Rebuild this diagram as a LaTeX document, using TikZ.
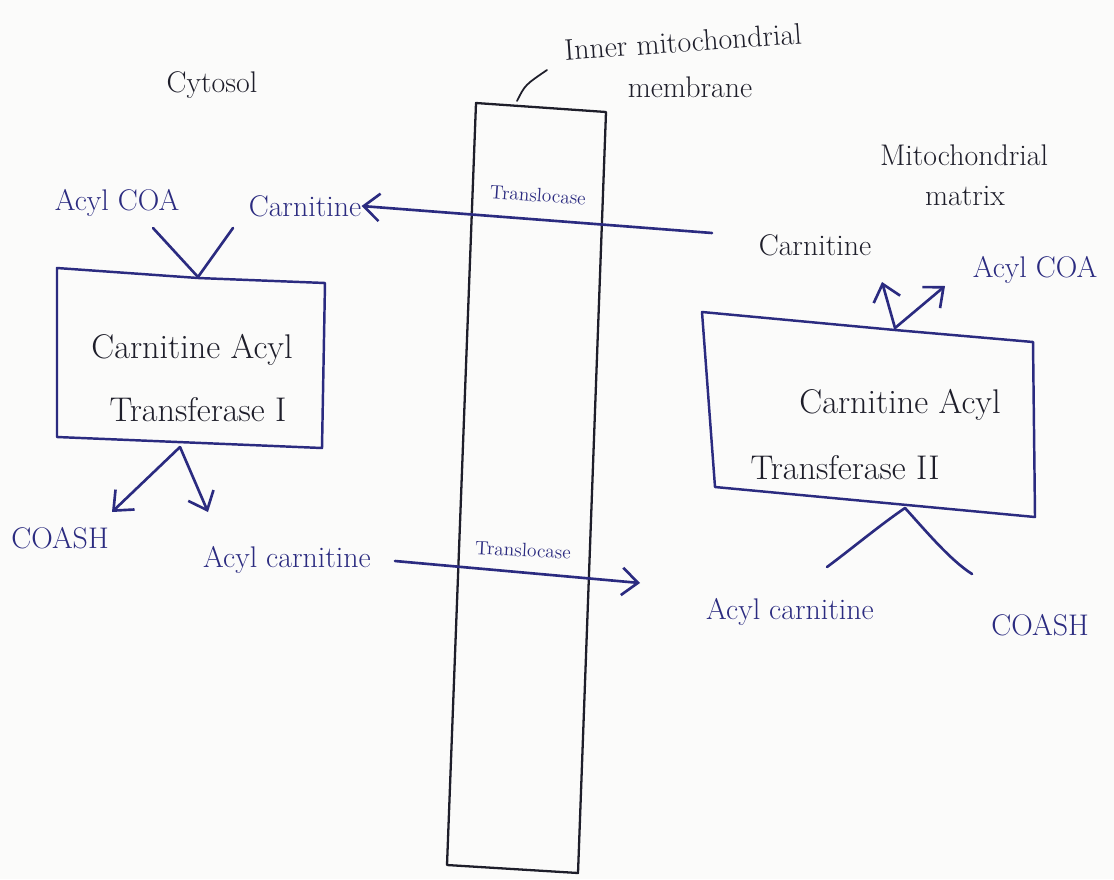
\documentclass[tikz,border=0pt]{standalone}
\usetikzlibrary{arrows.meta}
\definecolor{ink}{HTML}{2B2B80}
\definecolor{pencil}{HTML}{1E1E2A}
\definecolor{paper}{HTML}{FBFBFA}
\begin{document}
\begin{tikzpicture}[x=0.02cm,y=-0.02cm,
  lbl/.style={inner sep=0pt,text=pencil,font=\fontsize{17}{19}\selectfont},
  big/.style={lbl,font=\fontsize{19.5}{21}\selectfont},
  sml/.style={inner sep=0pt,text=ink,font=\fontsize{11}{12}\selectfont},
  link/.style={draw=ink,line width=1.5pt,line cap=round,line join=round},
  arr/.style={link,-{Straight Barb[length=3.2mm,width=5.5mm,line width=1.5pt]}},
  boxline/.style={draw=ink,line width=1.4pt,line join=round}]
\fill[paper] (0,0) rectangle (1114,879);
\useasboundingbox (0,0) rectangle (1114,879);

% membrane
\draw[pencil,line width=1.3pt,line join=round] (476,103) -- (606,112) -- (578,873) -- (447,865) -- cycle;
\coordinate (memtop) at (517,101);
\coordinate (memlead) at (547,70);
\node[lbl,rotate=4] (inner) at (683,42) {Inner mitochondrial};
\node[lbl] (mem) at (690,87) {membrane};
\draw[pencil,line width=1pt,line cap=round] (memtop) .. controls (525,85) .. (memlead);

% region labels
\node[lbl] (cyt) at (212,85) {Cytosol};
\node[lbl] (mito) at (964,155) {Mitochondrial};
\node[lbl] (matrix) at (965,196) {matrix};

% cytosol side
\node[lbl,text=ink] (acoa1) at (117,203) {Acyl COA};
\node[lbl,text=ink] (carn1) at (305,206) {Carnitine};
\node[lbl,text=ink] (coash1) at (60,538) {COASH};
\node[lbl,text=ink] (acarn1) at (287,560) {Acyl carnitine};

\draw[boxline] (57,268) -- (198,278) -- (325,283) -- (322,448) -- (57,437) -- cycle;
\coordinate (t1) at (198,277);
\coordinate (b1) at (180,447);
\node[big] (cat1a) at (192,350) {Carnitine Acyl};
\node[big] (cat1b) at (198,410) {Transferase I};

\coordinate (v1a) at (153,228);
\coordinate (v1b) at (233,228);
\draw[link] (v1a) -- (t1);
\draw[link] (v1b) -- (t1);
\draw[arr] (b1) -- (112,512);
\draw[arr] (b1) -- (208,512);

% matrix side
\node[lbl,text=pencil] (carn2) at (815,245) {Carnitine};
\node[lbl,text=ink] (acoa2) at (1035,270) {Acyl COA};
\node[lbl,text=ink] (acarn2) at (790,612) {Acyl carnitine};
\node[lbl,text=ink] (coash2) at (1040,625) {COASH};

\draw[boxline] (702,312) -- (895,330) -- (1033,342) -- (1035,517) -- (715,487) -- cycle;
\node[big] (cat2a) at (900,405) {Carnitine Acyl};
\node[big] (cat2b) at (845,468) {Transferase II};
\coordinate (t2) at (895,328);
\coordinate (b2) at (905,508);
\draw[arr] (t2) -- (882,282);
\draw[arr] (t2) -- (945,286);
\draw[link] (b2) .. controls (880,525) and (850,550) .. (827,567);
\draw[link] (b2) .. controls (925,530) and (950,560) .. (972,574);

% translocase transfers
\coordinate (tr1s) at (712,233);
\draw[arr] (tr1s) -- (carn1.east);
\node[sml,rotate=-4] (trans1) at (538,195) {Translocase};
\coordinate (tr2s) at (395,561);
\draw[arr] (tr2s) -- (640,583);
\node[sml,rotate=-3] (trans2) at (523,550) {Translocase};
\end{tikzpicture}
\end{document}
